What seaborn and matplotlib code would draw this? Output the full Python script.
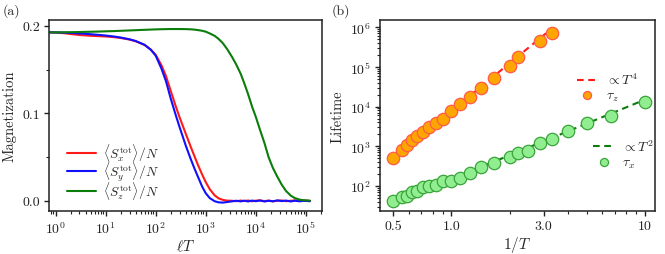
import numpy as np
import pandas as pd
import matplotlib
matplotlib.use('Agg')
import matplotlib.pyplot as plt
import matplotlib.ticker as mticker
import seaborn as sns

# panel (a): magnetization components vs l*T
lT = [0.76, 1, 1.5, 2, 3, 5, 7, 10, 15, 20, 30, 40, 60, 80, 100, 130, 160, 200, 250, 300,
      400, 500, 600, 700, 850, 1000, 1200, 1500, 1800, 2200, 2700, 3300, 4000, 5000, 6000,
      7000, 8500, 10000, 12000, 15000, 18000, 22000, 27000, 33000, 40000, 50000, 60000,
      75000, 90000, 120000]
mag_x = [0.1924, 0.1922, 0.1914, 0.1905, 0.1894, 0.1885, 0.1881, 0.1877, 0.1869, 0.1860,
         0.1842, 0.1822, 0.1780, 0.1728, 0.1668, 0.1550, 0.1428, 0.1255, 0.1085, 0.0955,
         0.0765, 0.0620, 0.0505, 0.0410, 0.0300, 0.0215, 0.0135, 0.0065, 0.0030, 0.0012,
         0.0003, 0.0002, -0.0003, 0.0004, -0.0002, 0.0005, -0.0004, 0.0003, 0.0006, -0.0002,
         0.0004, -0.0005, 0.0003, 0.0005, -0.0003, 0.0002, 0.0006, -0.0002, 0.0004, -0.0001]
mag_y = [0.1924, 0.1923, 0.1921, 0.1918, 0.1912, 0.1903, 0.1896, 0.1888, 0.1876, 0.1865,
         0.1845, 0.1825, 0.1782, 0.1725, 0.1658, 0.1512, 0.1370, 0.1168, 0.0985, 0.0843,
         0.0630, 0.0480, 0.0365, 0.0275, 0.0162, 0.0088, 0.0033, -0.0003, -0.0016, -0.0019,
         -0.0012, -0.0005, 0.0002, -0.0005, 0.0003, -0.0006, 0.0004, -0.0003, 0.0005, -0.0006,
         0.0002, -0.0004, 0.0006, -0.0002, 0.0004, -0.0006, 0.0003, -0.0004, 0.0002, -0.0003]
mag_z = [0.1924, 0.1924, 0.1925, 0.1926, 0.1928, 0.1931, 0.1933, 0.1936, 0.1939, 0.1942,
         0.1946, 0.1949, 0.1953, 0.1956, 0.1958, 0.1960, 0.1961, 0.1962, 0.1962, 0.1962,
         0.1961, 0.1959, 0.1955, 0.1950, 0.1942, 0.1932, 0.1912, 0.1885, 0.1850, 0.1800,
         0.1730, 0.1650, 0.1565, 0.1450, 0.1330, 0.1220, 0.1070, 0.0960, 0.0820, 0.0655,
         0.0500, 0.0375, 0.0275, 0.0185, 0.0115, 0.0060, 0.0033, 0.0015, 0.0008, 0.0004]

# panel (b): lifetimes vs 1/T
temps_z = [2.0, 1.8, 1.7, 1.6, 1.5, 1.4, 1.3, 1.2, 1.1, 1.0, 0.9, 0.8, 0.7, 0.6, 0.5, 0.45, 0.35, 0.3]
tau_z = [520, 796, 1064, 1425, 1834, 2312, 3090, 3900, 5000, 7850, 11350, 17800, 28800,
         51800, 107000, 174000, 452000, 733000]
temps_x = [2.0, 1.8, 1.7, 1.6, 1.5, 1.4, 1.3, 1.2, 1.1, 1.0, 0.9, 0.8, 0.7, 0.6, 0.5, 0.45,
           0.4, 0.35, 0.3, 0.25, 0.2, 0.15, 0.1]
tau_x = [42, 53, 55, 70, 75, 93, 100, 104, 131, 136, 163, 217, 302, 389, 541, 682, 751,
         1220, 1510, 2400, 3760, 5890, 12700]

sns.set_theme(style='ticks')
plt.rcParams['font.family'] = ['serif']
plt.rcParams['font.serif'] = ['cmr10', 'DejaVu Serif']
plt.rcParams['mathtext.fontset'] = 'cm'
plt.rcParams['axes.formatter.use_mathtext'] = True
plt.rcParams['font.size'] = 10
plt.rcParams['axes.linewidth'] = 1.1
plt.rcParams['xtick.direction'] = 'out'
plt.rcParams['ytick.direction'] = 'out'

fig = plt.figure(figsize=(6.65, 2.55), dpi=100)
ax1 = fig.add_axes([0.0737, 0.1686, 0.4105, 0.749])
ax2 = fig.add_axes([0.5714, 0.1686, 0.4135, 0.749])

# ---- panel (a)
df_mag = pd.DataFrame({'lT': lT, 'x': mag_x, 'y': mag_y, 'z': mag_z})
labels = {'x': r'$\langle S_x^{\mathrm{tot}}\rangle/N$',
          'y': r'$\langle S_y^{\mathrm{tot}}\rangle/N$',
          'z': r'$\langle S_z^{\mathrm{tot}}\rangle/N$'}
colors = {'x': '#ff1a1a', 'y': '#1010ff', 'z': '#0a7d0a'}
for comp in ['x', 'y', 'z']:
    sns.lineplot(data=df_mag, x='lT', y=comp, ax=ax1, color=colors[comp], lw=1.5,
                 label=labels[comp], estimator=None)
ax1.set_xscale('log')
ax1.set_xlim(0.74, 2.1e5)
ax1.set_ylim(-0.0115, 0.2065)
ax1.set_xticks([1, 10, 100, 1e3, 1e4, 1e5])
ax1.xaxis.set_minor_locator(mticker.LogLocator(base=10, subs=np.arange(2, 10), numticks=20))
ax1.xaxis.set_minor_formatter(mticker.NullFormatter())
ax1.set_yticks([0.0, 0.1, 0.2])
ax1.set_yticklabels(['0.0', '0.1', '0.2'])
ax1.yaxis.set_minor_locator(mticker.MultipleLocator(0.05))
ax1.set_xlabel(r'$\ell T$', fontsize=11, labelpad=1)
ax1.set_ylabel('Magnetization', fontsize=10.5, labelpad=4)
ax1.legend(loc='upper left', bbox_to_anchor=(0.03, 0.415), frameon=False, fontsize=9.7,
           handlelength=2.2, labelspacing=-0.3, handletextpad=0.5, borderpad=0.2)

# ---- panel (b)
df_z = pd.DataFrame({'invT': 1 / np.array(temps_z), 'tau': tau_z})
df_x = pd.DataFrame({'invT': 1 / np.array(temps_x), 'tau': tau_x})
# power-law fits with fixed exponents
amp_z = np.mean(np.log10(df_z['tau']) - 4 * np.log10(df_z['invT']))
amp_x = np.mean(np.log10(df_x['tau']) - 2 * np.log10(df_x['invT']))
df_z['fit'] = 10 ** amp_z * df_z['invT'] ** 4
df_x['fit'] = 10 ** amp_x * df_x['invT'] ** 2

sns.lineplot(data=df_z, x='invT', y='fit', ax=ax2, color='#ff1a1a', lw=1.5,
             linestyle=(0, (3.2, 2.2)), label=r'$\propto T^4$', zorder=2)
sns.scatterplot(data=df_z, x='invT', y='tau', ax=ax2, color='#ffa500', edgecolor='#ff5a4a',
                linewidth=0.9, s=80, label=r'$\tau_z$', zorder=3)
sns.lineplot(data=df_x, x='invT', y='fit', ax=ax2, color='#0a7d0a', lw=1.5,
             linestyle=(0, (3.2, 2.2)), label=r'$\propto T^2$', zorder=2)
sns.scatterplot(data=df_x, x='invT', y='tau', ax=ax2, color='#90ee90', edgecolor='#3aa43a',
                linewidth=0.9, s=80, label=r'$\tau_x$', zorder=3)
ax2.set_xscale('log')
ax2.set_yscale('log')
ax2.set_xlim(0.427, 11.3)
ax2.set_ylim(10 ** 1.37, 10 ** 6.18)
ax2.set_xticks([0.5, 1.0, 3.0, 10])
ax2.set_xticklabels(['0.5', '1.0', '3.0', '10'])
ax2.xaxis.set_minor_locator(mticker.LogLocator(base=10, subs=np.arange(2, 10), numticks=20))
ax2.xaxis.set_minor_formatter(mticker.NullFormatter())
ax2.set_yticks([1e2, 1e3, 1e4, 1e5, 1e6])
ax2.yaxis.set_minor_locator(mticker.LogLocator(base=10, subs=np.arange(2, 10), numticks=20))
ax2.yaxis.set_minor_formatter(mticker.NullFormatter())
ax2.set_xlabel(r'$1/T$', fontsize=11, labelpad=1)
ax2.set_ylabel('Lifetime', fontsize=10.5, labelpad=4)

handles, labs = ax2.get_legend_handles_labels()
leg1 = ax2.legend(handles[:2], labs[:2], loc='upper left', bbox_to_anchor=(0.68, 0.78),
                  frameon=False, fontsize=10, handlelength=1.5, markerscale=0.65,
                  labelspacing=0.1, handletextpad=0.6, borderpad=0.2)
ax2.add_artist(leg1)
ax2.legend(handles[2:], labs[2:], loc='upper left', bbox_to_anchor=(0.74, 0.43),
           frameon=False, fontsize=10, handlelength=1.5, markerscale=0.65,
           labelspacing=0.1, handletextpad=0.6, borderpad=0.2)

for ax in (ax1, ax2):
    for sp in ax.spines.values():
        sp.set_visible(True)
        sp.set_color('#222222')
    ax.tick_params(which='major', length=3.5, width=1.0, pad=3, labelsize=10, colors='#222222')
    ax.tick_params(which='minor', length=2, width=0.8, colors='#222222')

fig.text(0.004, 0.985, '(a)', fontsize=10, va='top', ha='left')
fig.text(0.499, 0.985, '(b)', fontsize=10, va='top', ha='left')

fig.savefig('out.png', dpi=100)
